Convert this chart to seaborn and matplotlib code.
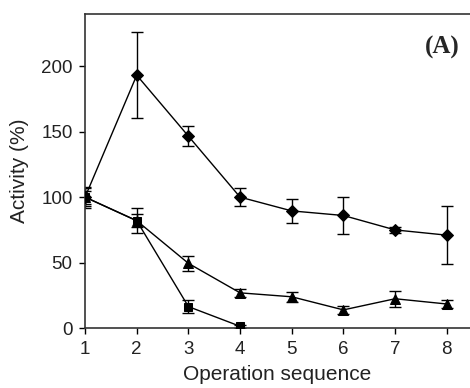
import matplotlib
matplotlib.use("Agg")
import matplotlib.pyplot as plt
import seaborn as sns
import pandas as pd

sequence = [1, 2, 3, 4, 5, 6, 7, 8]

diamond_mean = [100, 193, 146.5, 100, 89.5, 86, 75, 71]
diamond_err = [7, 33, 7.5, 7, 9, 14, 2, 22]

triangle_mean = [100, 82, 49.5, 27, 24, 14, 22.5, 18.5]
triangle_err = [5, 5, 5.5, 3, 4, 3, 6, 3]

square_mean = [100, 82, 16.5, 1.5]
square_err = [8, 9.5, 5, 1]

sns.set_theme(style="ticks")
plt.rcParams["font.family"] = ["Liberation Sans", "DejaVu Sans"]

fig = plt.figure(figsize=(4.70, 3.88), dpi=100)
ax = fig.add_axes([0.181, 0.154, 0.819, 0.811])

series = [
    ("diamond", sequence, diamond_mean, diamond_err, "D", 6.5),
    ("triangle", sequence, triangle_mean, triangle_err, "^", 7.5),
    ("square", sequence[:len(square_mean)], square_mean, square_err, "s", 6),
]

for name, xs, ys, es, mk, ms in series:
    df = pd.DataFrame({"x": xs, "y": ys})
    ax.errorbar(xs, ys, yerr=es, fmt="none", ecolor="black", elinewidth=1.0,
                capsize=4, capthick=1.0, zorder=2)
    sns.lineplot(data=df, x="x", y="y", ax=ax, color="black", linewidth=1.0,
                 marker=mk, markersize=ms, markeredgecolor="black",
                 markerfacecolor="black", zorder=3)

ax.set_xlim(1, 8.45)
ax.set_ylim(0, 240)
ax.set_xticks(sequence)
ax.set_yticks([0, 50, 100, 150, 200])
ax.set_xlabel("Operation sequence", fontsize=15, labelpad=5, color="#222222")
ax.set_ylabel("Activity (%)", fontsize=15, labelpad=9, color="#222222")
ax.tick_params(axis="both", labelsize=13.5, direction="out", length=4,
               width=1.0, color="black", labelcolor="#222222")
ax.tick_params(axis="x", pad=5)
ax.tick_params(axis="y", pad=5)

for side in ["left", "bottom", "top"]:
    ax.spines[side].set_color("#333333")
    ax.spines[side].set_linewidth(1.2)
ax.spines["right"].set_visible(False)

ax.text(0.974, 0.93, "(A)", transform=ax.transAxes, ha="right", va="top",
        fontsize=18, fontweight="bold", family=["Liberation Serif", "DejaVu Serif"])

fig.savefig("out.png", dpi=100)
